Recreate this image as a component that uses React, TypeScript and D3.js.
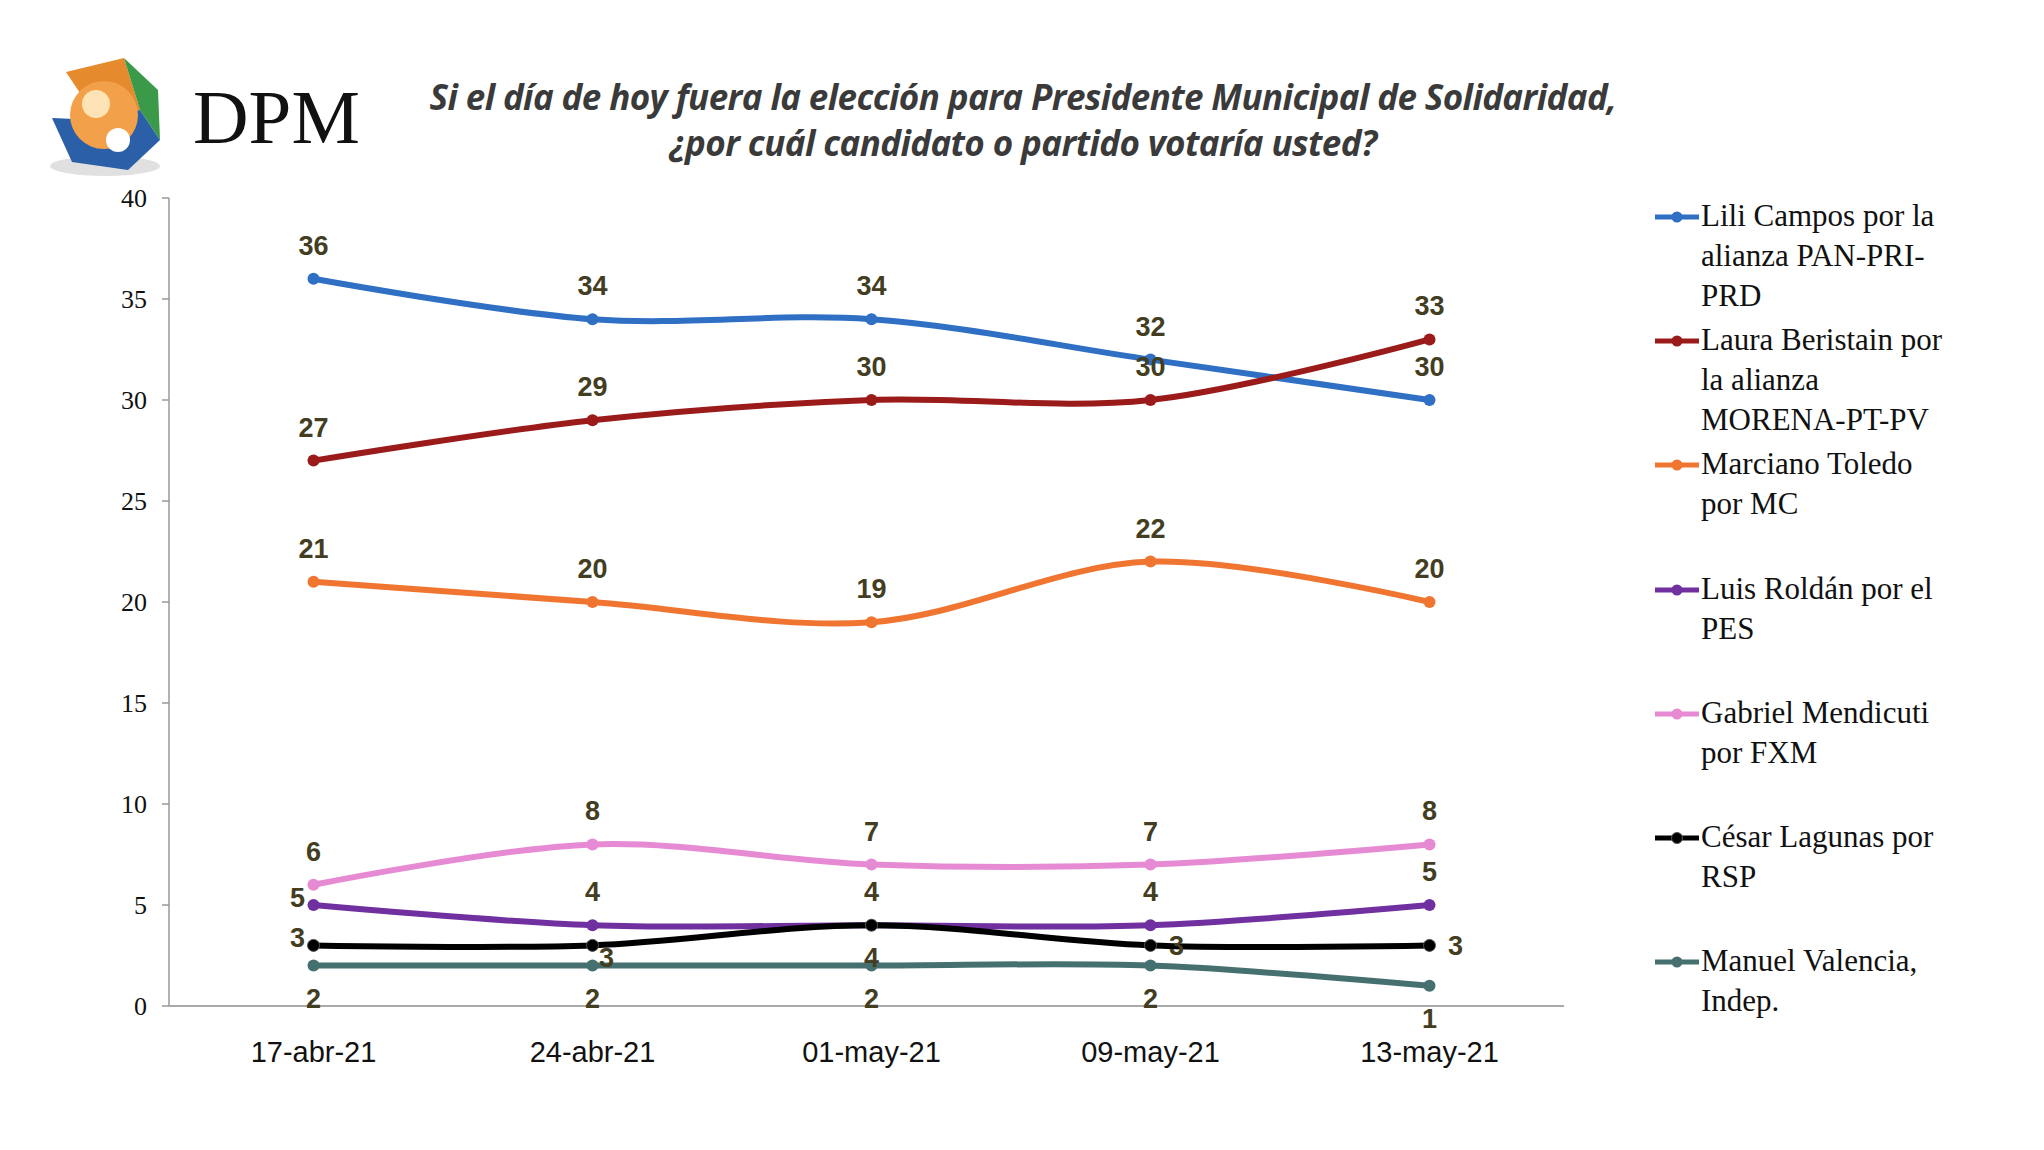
import * as React from 'react';
import * as d3 from 'd3';

const dates = ['17-abr-21', '24-abr-21', '01-may-21', '09-may-21', '13-may-21'];
const yTicks = [0, 5, 10, 15, 20, 25, 30, 35, 40];

const lili = [36, 34, 34, 32, 30];
const laura = [27, 29, 30, 30, 33];
const marciano = [21, 20, 19, 22, 20];
const luis = [5, 4, 4, 4, 5];
const gabriel = [6, 8, 7, 7, 8];
const cesar = [3, 3, 4, 3, 3];
const manuel = [2, 2, 2, 2, 1];

const seriesNames = [
  ['Lili Campos por la', 'alianza PAN-PRI-', 'PRD'],
  ['Laura Beristain por', 'la alianza', 'MORENA-PT-PV'],
  ['Marciano Toledo', 'por MC'],
  ['Luis Roldán por el', 'PES'],
  ['Gabriel Mendicuti', 'por FXM'],
  ['César Lagunas por', 'RSP'],
  ['Manuel Valencia,', 'Indep.'],
];
const seriesValues = [lili, laura, marciano, luis, gabriel, cesar, manuel];
const colors = ['#2f6fc4', '#9b1b1b', '#ef7530', '#7030a0', '#e68ad4', '#000000', '#467070'];

// label placement: u = above, d = below, l = left, r = right, b = right-below
const placement = [
  'uuuuu', 'uuuuu', 'uuuuu', 'luuuu', 'uuuuu', 'lbdrr', 'ddddd',
];

export default function App() {
  const W = 2044, H = 1150;
  const left = 169, right = 1564, top = 198, bottom = 1006;
  const x = d3.scalePoint<string>().domain(dates).range([left + 5, right + 5]).padding(0.5);
  const y = d3.scaleLinear().domain([0, 40]).range([bottom, top]);
  const line = d3.line<number>()
    .x((_, i) => x(dates[i]) as number)
    .y(d => y(d))
    .curve(d3.curveCatmullRom.alpha(0.5));

  const labelPos = (p: string, px: number, py: number) => {
    if (p === 'u') return [px, py - 24];
    if (p === 'd') return [px, py + 42];
    if (p === 'l') return [px - 16, py + 2];
    if (p === 'r') return [px + 26, py + 10];
    return [px + 14, py + 22];
  };

  const legendY = [226, 350, 474, 599, 723, 847, 971];

  return (
    <svg width={W} height={H} style={{ display: 'block', margin: -8 }}>
      <rect width={W} height={H} fill="#fff" />
      <line x1={0} x2={W} y1={1.5} y2={1.5} stroke="#444" strokeWidth={3} />

      {/* logo */}
      <g>
        <ellipse cx={105} cy={166} rx={55} ry={10} fill="#ccc" opacity={0.6} />
        <polygon points="66,72 124,58 140,110 98,120" fill="#e68a2e" />
        <polygon points="124,58 158,90 160,140 140,110" fill="#3a9a4a" />
        <polygon points="52,118 98,120 140,110 160,140 128,170 72,162" fill="#2b5fa8" />
        <circle cx={104} cy={115} r={34} fill="#f2a04a" />
        <circle cx={96} cy={104} r={14} fill="#fde3b5" />
        <circle cx={118} cy={140} r={12} fill="#fff" />
      </g>
      <text x={193} y={143} fontFamily="Liberation Serif" fontSize={77} fill="#111">DPM</text>

      <g fontFamily="Open Sans" fontStyle="italic" fontWeight="bold" fontSize={35} fill="#3a3a3a" textAnchor="middle" letterSpacing={-0.6}>
        <text x={1023} y={110}>Si el día de hoy fuera la elección para Presidente Municipal de Solidaridad,</text>
        <text x={1023} y={156}>¿por cuál candidato o partido votaría usted?</text>
      </g>

      {/* axes */}
      <line x1={left} x2={left} y1={top} y2={bottom} stroke="#999" strokeWidth={1.5} />
      <line x1={left} x2={right} y1={bottom} y2={bottom} stroke="#aaa" strokeWidth={2} />
      {yTicks.map(t => (
        <g key={t}>
          <line x1={left - 7} x2={left} y1={y(t)} y2={y(t)} stroke="#999" strokeWidth={1.5} />
          <text x={147} y={y(t) + 9} textAnchor="end" fontFamily="Liberation Serif" fontSize={26} fill="#111">{t}</text>
        </g>
      ))}
      {dates.map(d => (
        <text key={d} x={x(d)} y={1062} textAnchor="middle" fontFamily="Liberation Sans" fontSize={29} fill="#111">{d}</text>
      ))}

      {/* series */}
      {seriesValues.map((vals, s) => (
        <g key={s}>
          <path d={line(vals) as string} fill="none" stroke={colors[s]} strokeWidth={6} />
          {vals.map((v, i) => (
            <circle key={i} cx={x(dates[i])} cy={y(v)} r={6} fill={colors[s]} stroke={s === 5 ? '#555' : 'none'} />
          ))}
        </g>
      ))}
      <g fontFamily="Liberation Sans" fontWeight="bold" fontSize={27} fill="#433d22" textAnchor="middle">
        {seriesValues.map((vals, s) =>
          vals.map((v, i) => {
            const [lx, ly] = labelPos(placement[s][i], x(dates[i]) as number, y(v));
            return <text key={`${s}-${i}`} x={lx} y={ly}>{v}</text>;
          })
        )}
      </g>

      {/* legend */}
      {seriesNames.map((lines, s) => (
        <g key={s}>
          <line x1={1655} x2={1699} y1={legendY[s] - 9} y2={legendY[s] - 9} stroke={colors[s]} strokeWidth={5} />
          <circle cx={1677} cy={legendY[s] - 9} r={5.5} fill={colors[s]} stroke={s === 5 ? '#555' : 'none'} />
          {lines.map((t, k) => (
            <text key={k} x={1701} y={legendY[s] + k * 40} fontFamily="Liberation Serif" fontSize={31} fill="#111">{t}</text>
          ))}
        </g>
      ))}
    </svg>
  );
}
